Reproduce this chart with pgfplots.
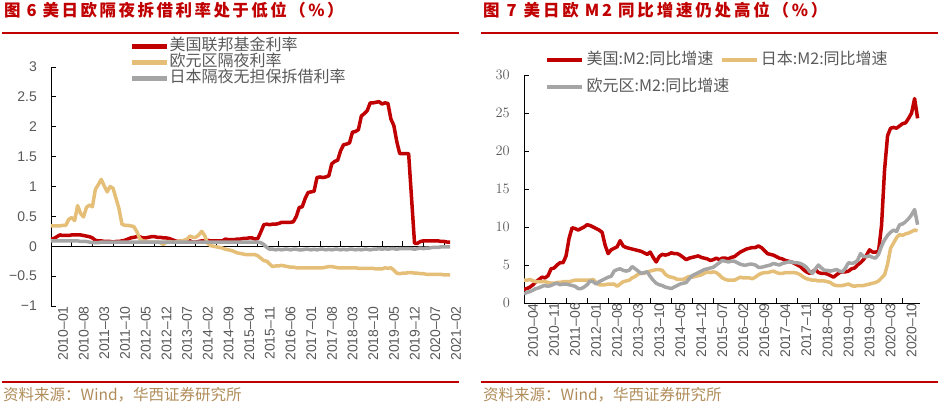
\documentclass[border=0pt]{standalone}
\usepackage{fontspec}
\setmainfont{Liberation Sans}
\newfontfamily\cjk{Noto Sans CJK SC}
\newfontfamily\cjktitle[LetterSpace=15]{Noto Sans CJK SC}
\newfontfamily\cjktitleb[LetterSpace=17]{Noto Sans CJK SC}
\usepackage{pgfplots}
\usepackage{pgfplotstable}
\pgfplotsset{compat=1.18}
\definecolor{cRed}{HTML}{C00000}
\definecolor{cGold}{HTML}{E5BE78}
\definecolor{cGrey}{HTML}{A5A5A5}
\definecolor{labgrey}{HTML}{595959}
\definecolor{footcol}{HTML}{B08C5A}
\definecolor{titlered}{HTML}{C00000}

\pgfplotstableread{
m us eu jp
0 0.12 0.34 0.09
1 0.13 0.34 0.09
2 0.16 0.34 0.09
3 0.19 0.34 0.09
4 0.18 0.35 0.09
5 0.18 0.35 0.09
6 0.18 0.45 0.09
7 0.19 0.48 0.09
8 0.19 0.43 0.09
9 0.19 0.68 0.09
10 0.19 0.55 0.08
11 0.18 0.49 0.08
12 0.17 0.65 0.08
13 0.16 0.69 0.07
14 0.14 0.66 0.06
15 0.10 0.95 0.06
16 0.09 1.03 0.06
17 0.09 1.12 0.07
18 0.08 1.01 0.07
19 0.08 0.91 0.07
20 0.08 1.00 0.07
21 0.07 0.97 0.07
22 0.08 0.80 0.07
23 0.08 0.63 0.07
24 0.09 0.37 0.07
25 0.10 0.35 0.07
26 0.12 0.35 0.07
27 0.14 0.34 0.07
28 0.15 0.33 0.07
29 0.16 0.25 0.07
30 0.16 0.13 0.07
31 0.14 0.09 0.07
32 0.14 0.08 0.07
33 0.15 0.07 0.07
34 0.16 0.07 0.07
35 0.16 0.07 0.07
36 0.15 0.07 0.07
37 0.15 0.06 0.07
38 0.14 0.03 0.07
39 0.14 0.07 0.07
40 0.13 0.08 0.07
41 0.11 0.07 0.07
42 0.09 0.07 0.07
43 0.08 0.08 0.07
44 0.09 0.09 0.07
45 0.09 0.10 0.07
46 0.08 0.12 0.07
47 0.09 0.17 0.07
48 0.07 0.15 0.07
49 0.07 0.15 0.07
50 0.08 0.19 0.07
51 0.09 0.25 0.07
52 0.09 0.18 0.07
53 0.10 0.05 0.07
54 0.09 0.01 0.07
55 0.09 0.00 0.07
56 0.09 -0.01 0.07
57 0.09 -0.02 0.07
58 0.09 -0.03 0.07
59 0.12 -0.05 0.07
60 0.11 -0.06 0.07
61 0.11 -0.07 0.07
62 0.11 -0.09 0.07
63 0.12 -0.11 0.07
64 0.12 -0.12 0.07
65 0.13 -0.13 0.07
66 0.13 -0.14 0.07
67 0.14 -0.14 0.07
68 0.14 -0.14 0.07
69 0.12 -0.14 0.07
70 0.13 -0.16 0.07
71 0.24 -0.20 0.06
72 0.36 -0.24 0.03
73 0.37 -0.25 -0.02
74 0.36 -0.30 -0.05
75 0.37 -0.34 -0.05
76 0.37 -0.33 -0.06
77 0.38 -0.33 -0.05
78 0.40 -0.32 -0.06
79 0.40 -0.33 -0.05
80 0.40 -0.34 -0.05
81 0.40 -0.35 -0.06
82 0.41 -0.35 -0.05
83 0.50 -0.36 -0.05
84 0.65 -0.36 -0.06
85 0.66 -0.36 -0.06
86 0.80 -0.36 -0.05
87 0.90 -0.36 -0.05
88 0.91 -0.36 -0.06
89 0.92 -0.36 -0.05
90 1.15 -0.36 -0.06
91 1.16 -0.36 -0.05
92 1.15 -0.36 -0.05
93 1.16 -0.35 -0.06
94 1.18 -0.34 -0.05
95 1.38 -0.34 -0.06
96 1.42 -0.35 -0.05
97 1.44 -0.36 -0.05
98 1.60 -0.36 -0.06
99 1.70 -0.36 -0.05
100 1.71 -0.36 -0.06
101 1.73 -0.36 -0.05
102 1.91 -0.36 -0.05
103 1.92 -0.36 -0.06
104 1.95 -0.37 -0.05
105 2.18 -0.37 -0.06
106 2.22 -0.37 -0.05
107 2.27 -0.37 -0.05
108 2.40 -0.37 -0.06
109 2.40 -0.37 -0.05
110 2.41 -0.38 -0.05
111 2.42 -0.38 -0.04
112 2.38 -0.38 -0.05
113 2.40 -0.36 -0.04
114 2.39 -0.37 -0.05
115 2.13 -0.36 -0.04
116 2.02 -0.40 -0.04
117 1.75 -0.45 -0.05
118 1.55 -0.46 -0.04
119 1.55 -0.45 -0.04
120 1.55 -0.45 -0.04
121 1.55 -0.44 -0.04
122 0.80 -0.44 -0.04
123 0.05 -0.45 -0.05
124 0.05 -0.45 -0.04
125 0.08 -0.46 -0.03
126 0.09 -0.46 -0.04
127 0.09 -0.47 -0.03
128 0.09 -0.47 -0.03
129 0.09 -0.47 -0.02
130 0.09 -0.47 -0.02
131 0.09 -0.47 -0.02
132 0.08 -0.47 -0.01
133 0.08 -0.48 -0.01
134 0.07 -0.48 -0.01
135 0.07 -0.48 -0.01
}\ratesdata

\pgfplotstableread{
m us jp eu
0 1.8 3.0 1.2
1 1.9 3.0 1.4
2 2.1 3.1 1.5
3 2.4 2.9 1.7
4 2.8 2.8 1.9
5 3.1 2.8 2.0
6 3.4 2.8 2.2
7 3.3 2.8 2.3
8 3.6 2.7 2.2
9 4.5 2.6 2.3
10 4.6 2.6 2.5
11 5.0 2.7 2.6
12 5.3 2.7 2.4
13 5.3 2.8 2.5
14 6.2 2.8 2.5
15 8.5 2.8 2.4
16 9.9 2.9 2.3
17 9.8 3.0 2.2
18 9.6 3.0 1.9
19 9.8 3.0 1.9
20 10.0 3.0 2.1
21 10.3 3.0 2.4
22 10.2 3.0 2.9
23 10.0 3.1 2.8
24 9.8 2.7 2.5
25 9.6 2.4 2.8
26 9.3 2.4 3.0
27 7.6 2.4 3.2
28 6.5 2.5 3.4
29 7.0 2.5 3.5
30 7.2 2.5 4.2
31 7.4 2.2 4.4
32 8.2 2.5 4.5
33 7.5 2.8 4.3
34 7.3 2.9 4.2
35 7.2 3.0 4.3
36 7.1 3.3 4.8
37 7.0 3.5 4.5
38 6.9 3.8 4.2
39 6.8 3.9 3.9
40 6.6 3.9 4.0
41 6.4 4.1 4.1
42 6.7 4.2 3.5
43 6.0 4.3 3.0
44 5.4 4.4 2.6
45 6.1 4.4 2.4
46 6.4 4.3 2.3
47 6.3 3.8 2.1
48 6.4 3.5 2.0
49 6.6 3.4 1.9
50 6.5 3.3 2.1
51 6.5 3.1 2.3
52 6.3 3.1 2.5
53 6.0 3.1 2.6
54 5.7 3.3 2.7
55 5.9 3.5 3.2
56 6.0 3.4 3.6
57 6.1 3.5 3.8
58 6.2 3.6 4.0
59 6.0 3.7 4.2
60 5.9 3.9 4.4
61 5.8 4.1 4.5
62 5.6 4.0 4.6
63 5.7 4.1 4.7
64 5.9 4.0 5.0
65 5.7 3.7 5.3
66 5.9 3.3 5.6
67 5.9 3.1 5.5
68 5.8 3.0 5.4
69 6.0 3.0 5.5
70 6.1 3.0 5.5
71 6.4 3.2 5.3
72 6.7 3.4 5.1
73 6.9 3.3 5.0
74 7.1 3.3 5.0
75 7.2 3.3 5.1
76 7.3 3.2 5.1
77 7.3 3.4 5.0
78 7.5 3.7 4.7
79 7.3 3.9 4.7
80 6.9 4.0 4.8
81 6.5 4.0 4.9
82 6.4 4.1 5.0
83 6.3 4.2 5.2
84 6.1 4.0 5.1
85 5.9 3.9 5.0
86 5.8 3.9 5.2
87 5.6 4.0 5.3
88 5.5 4.0 5.4
89 5.4 4.0 5.4
90 5.2 4.0 5.3
91 5.0 3.9 5.3
92 4.8 3.7 5.2
93 4.4 3.4 5.0
94 4.1 3.2 4.7
95 3.9 3.1 4.2
96 4.1 3.0 3.9
97 4.4 3.0 4.5
98 4.0 2.9 5.0
99 3.9 2.9 4.6
100 3.9 2.9 4.3
101 3.8 2.8 4.3
102 3.6 2.7 4.2
103 3.4 2.4 4.3
104 3.7 2.3 4.4
105 4.0 2.3 4.2
106 4.1 2.3 4.1
107 4.1 2.4 4.6
108 4.2 2.5 5.3
109 4.5 2.3 5.2
110 4.6 2.2 5.3
111 5.0 2.3 5.6
112 5.3 2.3 6.5
113 5.7 2.3 6.1
114 6.3 2.4 6.1
115 7.0 2.5 6.2
116 6.7 2.6 6.0
117 6.7 2.7 5.9
118 6.8 2.9 6.4
119 10.2 3.3 7.5
120 17.5 3.7 8.3
121 22.0 5.1 8.9
122 23.0 7.2 9.3
123 23.1 7.9 9.6
124 23.0 8.6 9.4
125 23.3 9.0 10.3
126 23.6 8.9 10.4
127 23.7 9.1 10.7
128 24.3 9.2 11.1
129 25.0 9.4 11.6
130 26.9 9.6 12.3
131 24.3 9.5 10.3
}\mtwodata

\pgfplotsset{
  mystyle/.style={
    scale only axis,
    anchor=south west,
    tick align=inside,
    major tick length=5pt,
    every tick/.style={black, line width=0.8pt},
    axis line style={black, line width=0.8pt},
    xticklabel style={font=\fontsize{14}{16}\selectfont, text=labgrey, inner sep=0pt, rotate=90, anchor=east},
    yticklabel style={font=\fontsize{14}{16}\selectfont, text=labgrey, inner sep=0pt, xshift=-14pt},
    legend cell align=left,
    legend image code/.code={\draw[##1, line width=4.5pt] (0pt,0pt) -- (35pt,0pt);},
    every axis plot/.append style={line width=3.5pt, line join=round},
  }
}

\begin{document}
\begin{tikzpicture}
\path[use as bounding box] (0pt,0pt) rectangle (945pt,416pt);

% titles and rules
\node[anchor=west, inner sep=0pt, text=titlered, font=\cjktitle\bfseries\fontsize{16.5}{18}\selectfont] at (4pt,406pt) {图\hspace{6pt}6\hspace{6pt}美日欧隔夜拆借利率处于低位（\%）};
\node[anchor=west, inner sep=0pt, text=titlered, font=\cjktitleb\bfseries\fontsize{16.5}{18}\selectfont] at (483pt,406pt) {图\hspace{7pt}7\hspace{7pt}美日欧\hspace{6pt}M2\hspace{6pt}同比增速仍处高位（\%）};
\draw[titlered, line width=2pt] (2pt,383pt) -- (459pt,383pt);
\draw[titlered, line width=2pt] (481pt,383pt) -- (938pt,383pt);
\draw[titlered, line width=2pt] (2pt,34pt) -- (459pt,34pt);
\draw[titlered, line width=2pt] (481pt,34pt) -- (938pt,34pt);
\node[anchor=west, inner sep=0pt, text=footcol, font=\cjk\fontsize{15.5}{17}\selectfont] at (3pt,21pt) {资料来源：Wind，华西证券研究所};
\node[anchor=west, inner sep=0pt, text=footcol, font=\cjk\fontsize{15.5}{17}\selectfont] at (483pt,21pt) {资料来源：Wind，华西证券研究所};

% left: zero line with ticks
\begin{axis}[mystyle, at={(51pt,110pt)}, width=399pt, height=239pt,
  xmin=0, xmax=135, ymin=-1, ymax=3,
  axis x line*=middle, axis y line=none,
  xtick={0,7,...,133}, xticklabels={}, ytick=\empty]
\end{axis}

% left main
\begin{axis}[mystyle, at={(51pt,110pt)}, width=399pt, height=239pt,
  xmin=0, xmax=135, ymin=-1, ymax=3,
  axis lines*=left, x axis line style={draw=none},
  x tick style={draw=none},
  xtick={0,7,...,133},
  xticklabels={2010–01,2010–08,2011–03,2011–10,2012–05,2012–12,2013–07,2014–02,2014–09,2015–04,2015–11,2016–06,2017–01,2017–08,2018–03,2018–10,2019–05,2019–12,2020–07,2021–02},
  xticklabel style={yshift=-12pt},
  ytick={-1,-0.5,0,0.5,1,1.5,2,2.5,3},
  yticklabels={−1,−0.5,0,0.5,1,1.5,2,2.5,3},
  legend style={at={(0.198,1.121)}, anchor=north west, draw=none, fill=none,
    inner sep=0pt, row sep=0pt,
    font=\cjk\fontsize{16}{17}\selectfont, text=labgrey,
    nodes={inner sep=0pt, text height=12pt, text depth=4pt},
    /tikz/every even column/.append style={column sep=7pt}},
]
\addplot[cRed] table[x=m, y=us] {\ratesdata};
\addlegendentry{美国联邦基金利率}
\addplot[cGold] table[x=m, y=eu] {\ratesdata};
\addlegendentry{欧元区隔夜利率}
\addplot[cGrey] table[x=m, y=jp] {\ratesdata};
\addlegendentry{日本隔夜无担保拆借利率}
\end{axis}

% right
\begin{axis}[mystyle, at={(524pt,113pt)}, width=396pt, height=228pt,
  xmin=0, xmax=131.8, ymin=0, ymax=30,
  axis lines*=left,
  xtick={0,7,...,126},
  xticklabels={2010–04,2010–11,2011–06,2012–01,2012–08,2013–03,2013–10,2014–05,2014–12,2015–07,2016–02,2016–09,2017–04,2017–11,2018–06,2019–01,2019–08,2020–03,2020–10},
  xticklabel style={yshift=-9pt},
  ytick={0,5,...,30},
  legend columns=2,
  legend style={at={(0.053,1.101)}, anchor=north west, draw=none, fill=none,
    inner sep=0pt, row sep=11pt,
    font=\cjk\fontsize{16}{17}\selectfont, text=labgrey,
    nodes={inner sep=0pt, text height=12pt, text depth=4pt},
    /tikz/every even column/.append style={column sep=-10pt},
    /tikz/every odd column/.append style={column sep=2pt}},
]
\addplot[cRed] table[x=m, y=us] {\mtwodata};
\addlegendentry{美国:M2:同比增速}
\addplot[cGold] table[x=m, y=jp] {\mtwodata};
\addlegendentry{日本:M2:同比增速}
\addplot[cGrey] table[x=m, y=eu] {\mtwodata};
\addlegendentry{欧元区:M2:同比增速}
\end{axis}
\end{tikzpicture}
\end{document}
